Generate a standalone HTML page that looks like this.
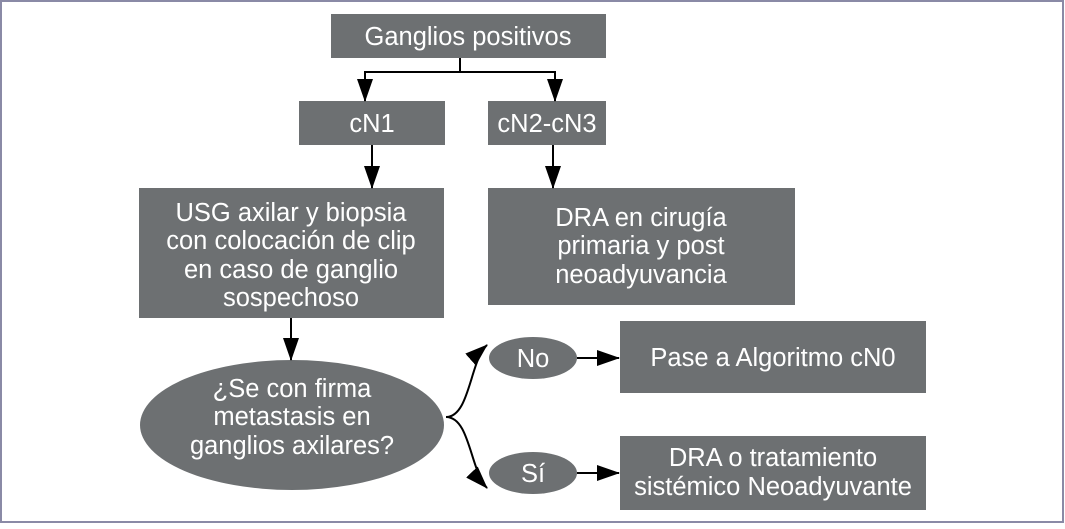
<!DOCTYPE html>
<html><head><meta charset="utf-8"><style>
body{margin:0;background:#fff;}
svg text{font-family:"Liberation Sans",Arial,sans-serif;fill:#fff;font-size:25.5px;text-anchor:middle;}
</style></head><body>
<svg width="1065" height="524" viewBox="0 0 1065 524" xmlns="http://www.w3.org/2000/svg">
<defs>
<marker id="b" markerWidth="24" markerHeight="16" refX="22" refY="8" orient="auto" markerUnits="userSpaceOnUse"><path d="M0,0 L23,8 L0,16z" fill="#000"/></marker></defs>
<rect x="1" y="1" width="1062" height="521" fill="none" stroke="#8a8aa6" stroke-width="2"/>
<g fill="#6d7072">
<rect x="331" y="14" width="275" height="44"/>
<rect x="299" y="101" width="146" height="44"/>
<rect x="488" y="101" width="118" height="44"/>
<rect x="139" y="188" width="305" height="130"/>
<rect x="488" y="188" width="307" height="117"/>
<ellipse cx="292" cy="425" rx="152" ry="65"/>
<ellipse cx="533" cy="358" rx="44" ry="21"/>
<ellipse cx="533" cy="473" rx="44" ry="21"/>
<rect x="620" y="321" width="306" height="72"/>
<rect x="620" y="436" width="306" height="74"/>
</g>
<g stroke="#000" stroke-width="2" fill="none">
<path d="M460 58V72H365V101" marker-end="url(#b)"/>
<path d="M460 72H555V101" marker-end="url(#b)"/>
<path d="M372 145V188" marker-end="url(#b)"/>
<path d="M553 145V188" marker-end="url(#b)"/>
<path d="M291 318V360" marker-end="url(#b)"/>
<path d="M446 417C470 417 470 360 487 345" marker-end="url(#b)"/>
<path d="M446 417C470 417 470 470 487 488" marker-end="url(#b)"/>
<path d="M577 358H619" marker-end="url(#b)"/>
<path d="M577 473H619" marker-end="url(#b)"/>
</g>
<text x="468" y="45">Ganglios positivos</text>
<text x="372" y="132">cN1</text>
<text x="547" y="132">cN2-cN3</text>
<text x="291" y="221">USG axilar y biopsia</text>
<text x="291" y="249">con colocación de clip</text>
<text x="291" y="278">en caso de ganglio</text>
<text x="291" y="306">sospechoso</text>
<text x="641" y="226">DRA en cirugía</text>
<text x="641" y="254">primaria y post</text>
<text x="641" y="283">neoadyuvancia</text>
<text x="292" y="397">¿Se con firma</text>
<text x="292" y="425">metastasis en</text>
<text x="292" y="454">ganglios axilares?</text>
<text x="533" y="367">No</text>
<text x="533" y="482">Sí</text>
<text x="773" y="366">Pase a Algoritmo cN0</text>
<text x="773" y="466">DRA o tratamiento</text>
<text x="773" y="495">sistémico Neoadyuvante</text>
</svg>
</body></html>
